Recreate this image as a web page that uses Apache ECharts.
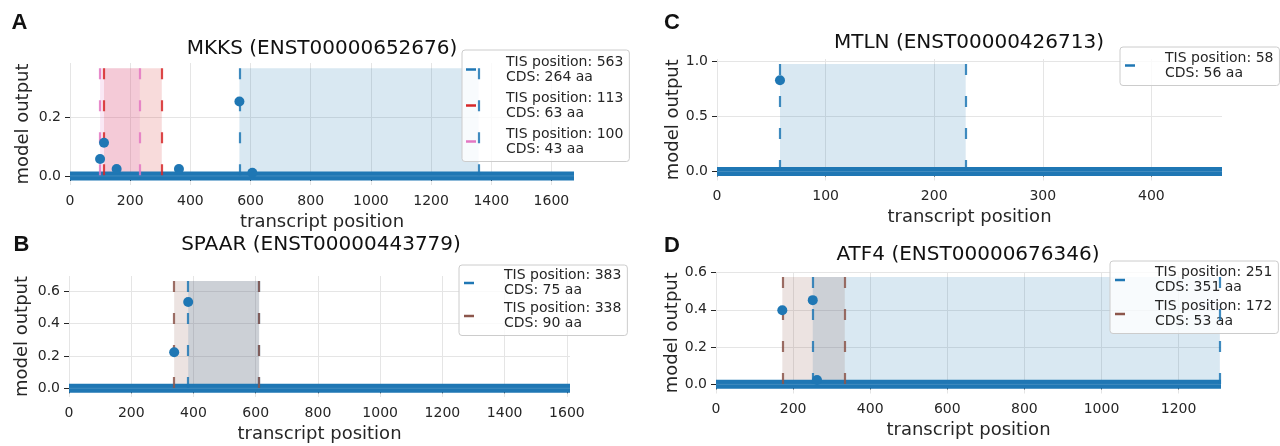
<!DOCTYPE html>
<html>
<head>
<meta charset="utf-8">
<script src="https://cdn.jsdelivr.net/npm/echarts@6/dist/echarts.min.js"></script>
<style>
html, body {margin: 0; padding: 0; background: #ffffff;}
#main {width: 1280px; height: 446px;}
</style>
</head>
<body>
<div id="main"></div>
<script>
// A: MKKS (ENST00000652676)
var lenA = 1675
var pointsA_x = [100, 113, 155, 362, 563, 606]
var pointsA_y = [0.058, 0.114, 0.024, 0.024, 0.255, 0.011]
var tisA = [563, 113, 100]
var endA = [1358, 305, 232]
var cdsA = [264, 63, 43]
var boxTopA = 0.369
var xTicksA = [0, 200, 400, 600, 800, 1000, 1200, 1400, 1600]
var yTicksA = [0, 0.2]

// B: SPAAR (ENST00000443779)
var lenB = 1610
var pointsB_x = [338, 383]
var pointsB_y = [0.223, 0.534]
var tisB = [383, 338]
var endB = [611, 611]
var cdsB = [75, 90]
var boxTopB = 0.664
var xTicksB = [0, 200, 400, 600, 800, 1000, 1200, 1400, 1600]
var yTicksB = [0, 0.2, 0.4, 0.6]

// C: MTLN (ENST00000426713)
var lenC = 465
var pointsC_x = [58]
var pointsC_y = [0.832]
var tisC = [58]
var endC = [229]
var cdsC = [56]
var boxTopC = 0.98
var xTicksC = [0, 100, 200, 300, 400]
var yTicksC = [0, 0.5, 1.0]

// D: ATF4 (ENST00000676346)
var lenD = 1310
var pointsD_x = [172, 251, 262]
var pointsD_y = [0.398, 0.452, 0.023]
var tisD = [251, 172]
var endD = [1307, 334]
var cdsD = [351, 53]
var boxTopD = 0.576
var xTicksD = [0, 200, 400, 600, 800, 1000, 1200]
var yTicksD = [0, 0.2, 0.4, 0.6]

var BLUE = '#1f77b4', RED = '#d62728', PINK = '#e377c2', BROWN = '#8c564b'
var FONT = 'DejaVu Sans'
var TXT = '#262626'
var GRIDC = '#e5e5e5'

function rgba(hex, a) {
    var r = parseInt(hex.slice(1, 3), 16), g = parseInt(hex.slice(3, 5), 16), b = parseInt(hex.slice(5, 7), 16)
    return 'rgba(' + r + ',' + g + ',' + b + ',' + a + ')'
}

function legendName(tis, cds) {
    return 'TIS position: ' + tis + '\nCDS: ' + cds + ' aa'
}

var series = []
var legendNames = [[], [], [], []]

// 一个面板: 方框 + 基线 + 虚线 + 散点
function buildPanel(idx, len, px, py, tis, ends, cds, colors, boxTop) {
    for (let k = 0; k < tis.length; k++) {
        series.push({
            type: 'line', xAxisIndex: idx, yAxisIndex: idx, data: [], silent: true, z: 1,
            markArea: {
                silent: true,
                itemStyle: {color: rgba(colors[k], 0.17)},
                data: [[{coord: [tis[k], 0]}, {coord: [ends[k], boxTop]}]]
            }
        })
    }
    // 基线 (粗蓝线) + 中间一条浅色细线
    series.push({
        type: 'line', xAxisIndex: idx, yAxisIndex: idx, silent: true, z: 2,
        data: [[0, 0], [len, 0]], symbol: 'none',
        lineStyle: {color: BLUE, width: 9}
    })
    series.push({
        type: 'line', xAxisIndex: idx, yAxisIndex: idx, silent: true, z: 2,
        data: [[0, 0], [len, 0]], symbol: 'none',
        lineStyle: {color: 'rgba(255,255,255,0.15)', width: 1}
    })
    for (let k = 0; k < tis.length; k++) {
        let name = legendName(tis[k], cds[k])
        legendNames[idx].push(name)
        series.push({
            type: 'line', name: name, xAxisIndex: idx, yAxisIndex: idx, data: [], z: 3,
            color: colors[k], itemStyle: {color: colors[k]}, lineStyle: {color: colors[k]},
            markLine: {
                silent: true, symbol: ['none', 'none'], label: {show: false},
                lineStyle: {color: colors[k], type: [11, 21], width: 2.2, opacity: 0.85},
                data: [
                    [{coord: [tis[k], boxTop]}, {coord: [tis[k], 0]}],
                    [{coord: [ends[k], boxTop]}, {coord: [ends[k], 0]}]
                ]
            }
        })
    }
    series.push({
        type: 'scatter', xAxisIndex: idx, yAxisIndex: idx, z: 5, silent: true,
        data: px.map(function (x, i) { return [x, py[i]] }),
        symbolSize: 10, itemStyle: {color: BLUE, opacity: 1}
    })
}

buildPanel(0, lenA, pointsA_x, pointsA_y, tisA, endA, cdsA, [BLUE, RED, PINK], boxTopA)
buildPanel(1, lenB, pointsB_x, pointsB_y, tisB, endB, cdsB, [BLUE, BROWN], boxTopB)
buildPanel(2, lenC, pointsC_x, pointsC_y, tisC, endC, cdsC, [BLUE], boxTopC)
buildPanel(3, lenD, pointsD_x, pointsD_y, tisD, endD, cdsD, [BLUE, BROWN], boxTopD)

function xAxisOf(idx, len, ticks) {
    return {
        gridIndex: idx, type: 'value', min: 0, max: len,
        axisLine: {show: false},
        axisTick: {show: true, length: 5, customValues: ticks, lineStyle: {color: TXT, width: 1}},
        axisLabel: {customValues: ticks, margin: 9, fontSize: 14, color: TXT, fontFamily: FONT,
            formatter: function (v) { return String(v) }},
        splitLine: {show: true, lineStyle: {color: GRIDC, width: 1}},
        name: 'transcript position', nameLocation: 'middle', nameGap: 28,
        nameTextStyle: {fontSize: 18, color: TXT, fontFamily: FONT}
    }
}

function yAxisOf(idx, ymin, ymax, ticks, gap) {
    return {
        gridIndex: idx, type: 'value', min: ymin, max: ymax,
        axisLine: {show: false},
        axisTick: {show: true, length: 5, customValues: ticks, lineStyle: {color: TXT, width: 1}},
        axisLabel: {customValues: ticks, margin: 9, fontSize: 14, color: TXT, fontFamily: FONT,
            formatter: function (v) { return v.toFixed(1) }},
        splitLine: {show: true, lineStyle: {color: GRIDC, width: 1}},
        name: 'model output', nameLocation: 'middle', nameGap: gap,
        nameTextStyle: {fontSize: 18, color: TXT, fontFamily: FONT}
    }
}

function legendOf(idx, left, top, lh, gap, pad) {
    return {
        data: legendNames[idx], left: left, top: top, orient: 'vertical',
        selectedMode: false, icon: 'rect', itemWidth: 10, itemHeight: 2.5, itemGap: gap,
        backgroundColor: 'rgba(255,255,255,0.8)', borderColor: '#cccccc', borderWidth: 1,
        borderRadius: 3, padding: pad,
        textStyle: {fontSize: 14, lineHeight: lh, color: TXT, fontFamily: FONT, padding: [0, 0, 0, 25]}
    }
}

function label(x, y, text, size, weight, family) {
    return {
        type: 'text', x: x, y: y, z: 10,
        style: {text: text, fontSize: size, fontWeight: weight, fontFamily: family,
            fill: '#111111', textAlign: 'center', textVerticalAlign: 'middle'}
    }
}

var chartDom = document.getElementById('main')
var myChart = echarts.init(chartDom)
var option

option = {
    animation: false,
    backgroundColor: '#ffffff',
    grid: [
        {left: 70, top: 63, width: 504, height: 122},
        {left: 69, top: 276, width: 501, height: 121},
        {left: 717, top: 59, width: 505, height: 121.5},
        {left: 716, top: 272, width: 505, height: 121.5}
    ],
    xAxis: [
        xAxisOf(0, lenA, xTicksA),
        xAxisOf(1, lenB, xTicksB),
        xAxisOf(2, lenC, xTicksC),
        xAxisOf(3, lenD, xTicksD)
    ],
    yAxis: [
        yAxisOf(0, -0.031, 0.387, yTicksA, 38),
        yAxisOf(1, -0.054, 0.695, yTicksB, 38),
        yAxisOf(2, -0.082, 1.025, yTicksC, 34),
        yAxisOf(3, -0.049, 0.603, yTicksD, 34)
    ],
    legend: [
        legendOf(0, 462, 50, 15, 6, [4.5, 6, 5, 4]),
        legendOf(1, 459, 265, 14.5, 4, [3.5, 6, 5, 5]),
        legendOf(2, 1120, 47, 15, 5, [3.5, 6, 5, 5]),
        legendOf(3, 1110, 261, 14.5, 5, [4.5, 6, 5, 5])
    ],
    graphic: [
        label(19.5, 22.5, 'A', 22, 'bold', 'Liberation Sans'),
        label(21.5, 245, 'B', 22, 'bold', 'Liberation Sans'),
        label(672, 22.5, 'C', 22, 'bold', 'Liberation Sans'),
        label(672, 245.5, 'D', 22, 'bold', 'Liberation Sans'),
        label(322, 49, 'MKKS (ENST00000652676)', 20, 'normal', FONT),
        label(321, 245, 'SPAAR (ENST00000443779)', 20, 'normal', FONT),
        label(969, 43, 'MTLN (ENST00000426713)', 20, 'normal', FONT),
        label(968, 255, 'ATF4 (ENST00000676346)', 20, 'normal', FONT)
    ],
    series: series
}

option && myChart.setOption(option)
</script>
</body>
</html>
